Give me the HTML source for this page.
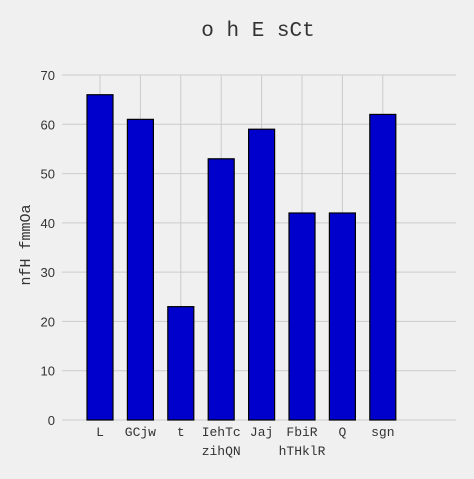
<!DOCTYPE html>
<html><head><meta charset="utf-8"><style>
body{margin:0;background:#f0f0f0;}
svg text{font-family:"Liberation Mono",monospace;fill:#333;}
svg text.ytl{font-family:"Liberation Sans",sans-serif;}
</style></head><body>
<svg id="c" width="474" height="474">
<rect width="474" height="474" fill="#f0f0f0"/>
<text x="258" y="36" font-size="21" text-anchor="middle">o h E sCt</text>
<text transform="translate(30,245) rotate(-90)" font-size="15" text-anchor="middle">nfH fmmOa</text>
<g id="grid"></g><g id="bars"></g><g id="ticks"></g>
</svg>
<script>
const categories=["L","GCjw","t","IehTc\nzihQN","Jaj","FbiR\nhTHklR","Q","sgn"];
const values=[66,61,23,53,59,42,42,62];
const yTicks=[0,10,20,30,40,50,60,70];
const NS="http://www.w3.org/2000/svg";
const x=i=>100+40.4*i, y=v=>420-v*345/70;
const grid=document.getElementById('grid'),bars=document.getElementById('bars'),ticks=document.getElementById('ticks');
function mk(t,a,p){const e=document.createElementNS(NS,t);for(const k in a)e.setAttribute(k,a[k]);p.appendChild(e);return e;}
yTicks.forEach(t=>{
 const l=mk('line',{x1:62,x2:456,y1:y(t),y2:y(t),stroke:'#cbcbcb'},grid);
 
 
 const tx=mk('text',{x:55,y:y(t)+5,'font-size':13,'text-anchor':'end','class':'ytl'},ticks);
 tx.textContent=t;
 
 
});
categories.forEach((c,i)=>{
 const l=mk('line',{x1:x(i),x2:x(i),y1:y(70),y2:420,stroke:'#cbcbcb'},grid);
 
 
 const r=mk('rect',{x:x(i)-13,y:y(values[i]),width:26,height:420-y(values[i]),fill:'#0000cc',stroke:'#000','stroke-width':1.2},bars);
 
 
 c.split('\n').forEach((s,j)=>{
  const t=mk('text',{x:x(i),y:436+j*19,'font-size':13,'text-anchor':'middle'},ticks);
  t.textContent=s;
  
  
 });
});
</script>
</body></html>
